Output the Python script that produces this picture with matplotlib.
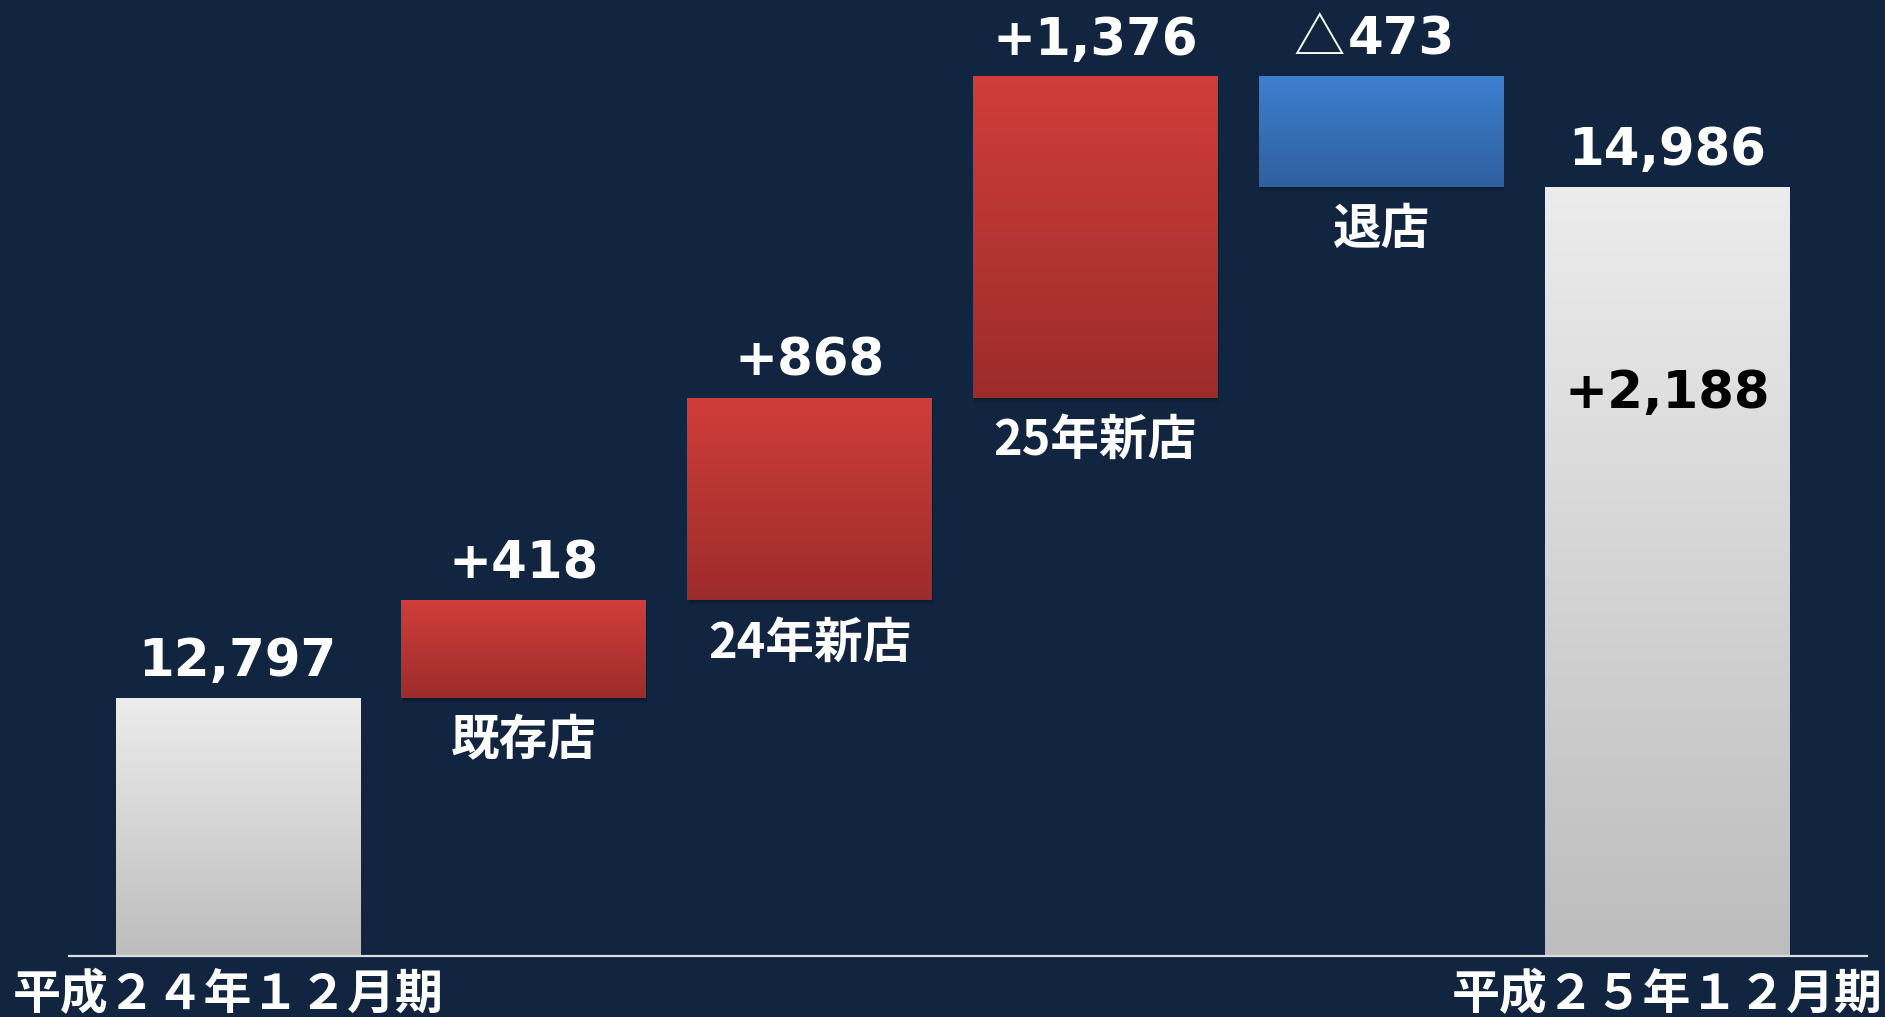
import matplotlib.pyplot as plt
import numpy as np
from matplotlib.colors import LinearSegmentedColormap
from matplotlib.patches import Rectangle

# data
start_label = "平成２４年１２月期"
end_label = "平成２５年１２月期"
start_value = 12797
end_value = 14986
step_labels = ["既存店", "24年新店", "25年新店", "退店"]
step_deltas = [418, 868, 1376, -473]
value_texts = ["12,797", "+418", "+868", "+1,376", "△473", "14,986"]
total_change_text = "+2,188"

BG = "#112440"
GRAY = ("#ececec", "#bdbdbd")
RED = ("#d03d3a", "#9c2c2a")
BLUE = ("#3d7fcf", "#2f5f9e")
NUM_FONT = "DejaVu Sans"
JP_FONT = ["Noto Sans CJK JP", "DejaVu Sans"]

# waterfall geometry from the data
bottoms = [0]
heights = [start_value]
level = start_value
for d in step_deltas:
    if d >= 0:
        bottoms.append(level)
        heights.append(d)
    else:
        bottoms.append(level + d)
        heights.append(-d)
    level += d
bottoms.append(0)
heights.append(end_value)
colors = [GRAY] + [RED if d >= 0 else BLUE for d in step_deltas] + [GRAY]
x = np.arange(len(heights))

fig = plt.figure(figsize=(18.85, 10.17), dpi=100, facecolor=BG)
ax = fig.add_axes([0.0366, 0.06, 0.954, 0.94])
ax.set_facecolor(BG)
ymin, ymax = 11692, 15785
for side in ["top", "left", "right"]:
    ax.spines[side].set_visible(False)
ax.spines["bottom"].set_color("#dcdcdc")
ax.spines["bottom"].set_linewidth(1.6)
ax.spines["bottom"].set_zorder(5)
ax.set_xticks([])
ax.set_yticks([])

width = 0.854
bars = ax.bar(x, heights, bottom=bottoms, width=width, color="none", zorder=3)

for bar, (c_top, c_bot) in zip(bars, colors):
    x0 = bar.get_x()
    y0 = max(bar.get_y(), ymin)
    y1 = bar.get_y() + bar.get_height()
    # soft shadow below the bar
    for k, a in [(22, 0.10), (14, 0.15), (7, 0.2)]:
        ax.add_patch(Rectangle((x0 + 0.004, y0 - k), width, y1 - y0,
                               facecolor="#050d1a", edgecolor="none",
                               alpha=a, zorder=2))
    cmap = LinearSegmentedColormap.from_list("g", [c_bot, c_top])
    grad = np.linspace(0, 1, 256).reshape(-1, 1)
    im = ax.imshow(grad, cmap=cmap, origin="lower", aspect="auto",
                   extent=(x0, x0 + width, y0, y1), zorder=3,
                   interpolation="bicubic")
    im.set_clip_path(bar)
ax.set_xlim(-0.59, 5.70)
ax.set_ylim(ymin, ymax)

# value labels above bars
tops = [b + h for b, h in zip(bottoms, heights)]
for i, txt in enumerate(value_texts):
    style = dict(textcoords="offset points", va="baseline", color="white",
                 fontsize=37, zorder=6)
    if txt.startswith("△"):
        # thin outline triangle as in the original, digits in bold
        ax.annotate("△", (x[i], tops[i]), xytext=(-26, 15.5), ha="right",
                    family=JP_FONT, fontweight="normal", **style)
        ax.annotate(txt[1:], (x[i], tops[i]), xytext=(-24, 15.5), ha="left",
                    family=NUM_FONT, fontweight="bold", **style)
    else:
        ax.annotate(txt, (x[i], tops[i]), xytext=(0, 15.5), ha="center",
                    family=NUM_FONT, fontweight="bold", **style)

# step labels below bars
for i, txt in enumerate(step_labels, start=1):
    ax.annotate(txt, (x[i], bottoms[i]), xytext=(0, -31), textcoords="offset points",
                ha="center", va="center", color="white", fontsize=35,
                fontweight="bold", family=JP_FONT, zorder=6)

# total change inside the final bar
ax.annotate(total_change_text, (x[-1], end_value), xytext=(0, -149),
            textcoords="offset points", ha="center", va="center", color="black",
            fontsize=37, fontweight="bold", family=NUM_FONT, zorder=6)

# period labels under the baseline
for i, txt, dx in [(0, start_label, -7), (len(x) - 1, end_label, 0)]:
    ax.annotate(txt, (x[i], ymin), xytext=(dx, -28), textcoords="offset points",
                ha="center", va="center", color="white", fontsize=34.5,
                fontweight="bold", family=JP_FONT, annotation_clip=False, zorder=6)

fig.savefig("out.png", dpi=100, facecolor=BG)
